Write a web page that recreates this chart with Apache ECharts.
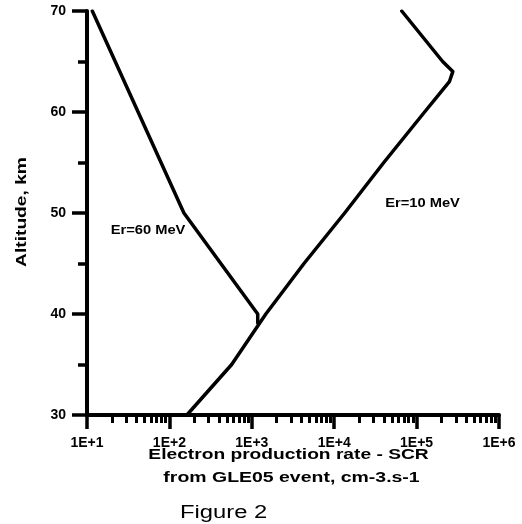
<!DOCTYPE html>
<html>
<head>
<meta charset="utf-8">
<script src="https://cdn.jsdelivr.net/npm/echarts@6/dist/echarts.min.js"></script>
<style>
html,body{margin:0;padding:0;background:#fff;}
#chart{width:522px;height:524px;}
</style>
</head>
<body>
<div id="chart"></div>
<script>
// ---- data ----
var altitude10 = [30, 35, 40, 45, 50, 55, 60, 63, 64, 65, 70];
var rate10 = [163, 570, 1480, 4300, 13400, 40000, 125000, 250000, 275000, 207000, 66000];
var altitude60 = [70, 50, 40, 39.1];
var rate60 = [11.6, 150, 1180, 1180];
var xMajorTicks = [10, 100, 1000, 10000, 100000, 1000000];
var xMinorTicks = [];
xMajorTicks.slice(0, -1).forEach(function (d) {
  for (var k = 2; k <= 9; k++) xMinorTicks.push(d * k);
});
var yTicks = [30, 40, 50, 60, 70];

var FONT = "'Liberation Sans', Arial, sans-serif";

function pairs(xs, ys) { return xs.map(function (x, i) { return [x, ys[i]]; }); }

var chart = echarts.init(document.getElementById('chart'));
chart.setOption({
  animation: false,
  backgroundColor: '#fff',
  grid: { left: 87, top: 11, width: 412, height: 404, containLabel: false, outerBoundsMode: 'none' },
  xAxis: [{
    type: 'log', logBase: 10, min: xMajorTicks[0], max: xMajorTicks[xMajorTicks.length - 1],
    position: 'bottom', z: 5,
    axisLine: { show: true, lineStyle: { color: '#000', width: 4 } },
    axisTick: { show: true, length: 14, lineStyle: { color: '#000', width: 3.5 } },
    axisLabel: {
      color: '#000', fontSize: 14, fontWeight: 'bold', fontFamily: FONT, margin: 21,
      formatter: function (v) { return '1E+' + Math.round(Math.log10(v)); }
    },
    splitLine: { show: false }
  }, {
    type: 'log', logBase: 10, min: xMajorTicks[0], max: xMajorTicks[xMajorTicks.length - 1],
    position: 'top', offset: -404,
    axisLine: { show: false },
    axisTick: { show: true, inside: true, length: 8, customValues: xMinorTicks, lineStyle: { color: '#000', width: 3 } },
    axisLabel: { show: false },
    splitLine: { show: false }
  }],
  yAxis: {
    type: 'value', min: yTicks[0], max: yTicks[yTicks.length - 1], interval: 10, z: 5,
    axisLine: { show: true, lineStyle: { color: '#000', width: 4 } },
    axisTick: { show: true, length: 15, lineStyle: { color: '#000', width: 3.5 } },
    minorTick: { show: true, splitNumber: 2, length: 9, lineStyle: { color: '#000', width: 3.5 } },
    axisLabel: { color: '#000', fontSize: 14, fontWeight: 'bold', fontFamily: FONT, margin: 21 },
    splitLine: { show: false }
  },
  series: [{
    name: 'Er=10 MeV', type: 'line', xAxisIndex: 0,
    data: pairs(rate10, altitude10),
    showSymbol: false, symbol: 'none',
    lineStyle: { color: '#000', width: 3.5, cap: 'round', join: 'round' }
  }, {
    name: 'Er=60 MeV', type: 'line', xAxisIndex: 0,
    data: pairs(rate60, altitude60),
    showSymbol: false, symbol: 'none',
    lineStyle: { color: '#000', width: 3.5, cap: 'round', join: 'round' }
  }],
  graphic: [
    { type: 'text', x: 148, y: 230.5, scaleX: 1.13,
      style: { text: 'Er=60 MeV', fill: '#000', font: 'bold 13px ' + FONT, align: 'center', verticalAlign: 'middle' } },
    { type: 'text', x: 422.5, y: 203.5, scaleX: 1.13,
      style: { text: 'Er=10 MeV', fill: '#000', font: 'bold 13px ' + FONT, align: 'center', verticalAlign: 'middle' } },
    { type: 'text', x: 288.5, y: 455.5, scaleX: 1.37,
      style: { text: 'Electron production rate - SCR', fill: '#000', font: 'bold 14px ' + FONT, align: 'center', verticalAlign: 'middle' } },
    { type: 'text', x: 291.5, y: 478.5, scaleX: 1.39,
      style: { text: 'from GLE05 event, cm-3.s-1', fill: '#000', font: 'bold 14px ' + FONT, align: 'center', verticalAlign: 'middle' } },
    { type: 'text', x: 180, y: 513.5, scaleX: 1.32,
      style: { text: 'Figure 2', fill: '#000', font: '18px ' + FONT, align: 'left', verticalAlign: 'middle' } },
    { type: 'text', x: 21.5, y: 212, rotation: Math.PI / 2, scaleX: 1.28,
      style: { text: 'Altitude, km', fill: '#000', font: 'bold 15px ' + FONT, align: 'center', verticalAlign: 'middle' } }
  ]
});
</script>
</body>
</html>
